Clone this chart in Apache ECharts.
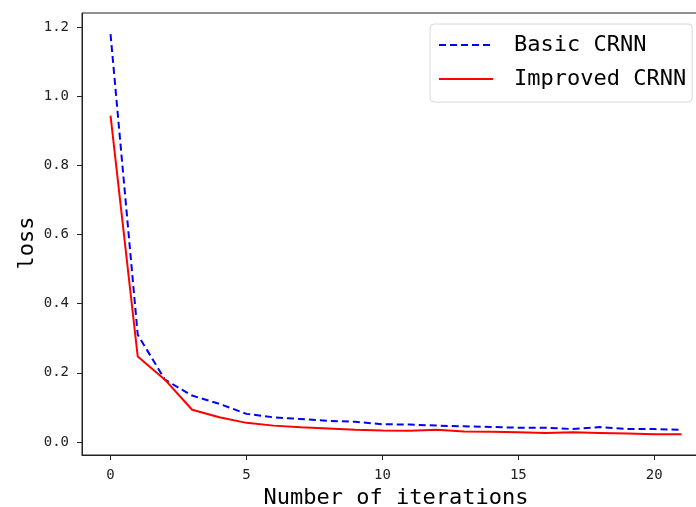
<!DOCTYPE html>
<html>
<head>
<meta charset="utf-8">
<script src="https://cdn.jsdelivr.net/npm/echarts@6/dist/echarts.min.js"></script>
<style>
  html, body { margin: 0; padding: 0; background: #fff; overflow: hidden; }
  #main { width: 712px; height: 507px; }
</style>
</head>
<body>
<div id="main"></div>
<script>
// iterations 0..21
var iterations = [0,1,2,3,4,5,6,7,8,9,10,11,12,13,14,15,16,17,18,19,20,21];
var basicLoss = [1.18,0.31,0.18,0.134,0.11,0.081,0.071,0.066,0.061,0.058,0.051,0.050,0.047,0.045,0.043,0.041,0.041,0.037,0.043,0.037,0.037,0.035];
var improvedLoss = [0.944,0.247,0.18,0.093,0.071,0.055,0.047,0.042,0.039,0.035,0.033,0.032,0.035,0.030,0.029,0.028,0.026,0.028,0.026,0.024,0.022,0.022];
var xTicks = [0, 5, 10, 15, 20];
var yTicks = [0, 0.2, 0.4, 0.6, 0.8, 1.0, 1.2];

var mono = "DejaVu Sans Mono";

function pairs(ys) {
  return iterations.map(function (x, i) { return [x, ys[i]]; });
}

var myChart = echarts.init(document.getElementById("main"));

var option = {
  animation: false,
  grid: {
    left: 82, top: 13, right: 2, bottom: 52,
    outerBoundsMode: "none",
    show: true, borderColor: "#222", borderWidth: 1, backgroundColor: "#fff"
  },
  legend: {
    orient: "vertical",
    left: 430, top: 24,
    padding: [10, 6, 12, 8],
    itemWidth: 54, itemHeight: 14, itemGap: 12,
    backgroundColor: "#fff",
    borderColor: "#d8d8d8", borderWidth: 1, borderRadius: 4,
    itemStyle: { opacity: 0 },
    textStyle: { fontFamily: mono, fontSize: 22, color: "#000", padding: [0, 0, 0, 16] },
    data: ["Basic CRNN", "Improved CRNN"]
  },
  xAxis: {
    type: "value",
    min: -1.05, max: 22.05,
    name: "Number of iterations",
    nameLocation: "middle",
    nameGap: 30,
    nameTextStyle: { fontFamily: mono, fontSize: 22, color: "#000" },
    splitLine: { show: false },
    axisLine: { show: true, onZero: false, lineStyle: { color: "#222" } },
    axisTick: { show: true, inside: false, length: 5, customValues: xTicks, lineStyle: { color: "#222" } },
    axisLabel: { customValues: xTicks, fontFamily: mono, fontSize: 14, color: "#222", margin: 13 }
  },
  yAxis: {
    type: "value",
    min: -0.038, max: 1.241,
    name: "loss",
    nameLocation: "middle",
    nameGap: 44,
    nameRotate: 90,
    nameMoveOverlap: false,
    nameTextStyle: { fontFamily: mono, fontSize: 22, color: "#000", padding: [0, 18, 0, 0] },
    splitLine: { show: false },
    axisLine: { show: true, onZero: false, lineStyle: { color: "#222" } },
    axisTick: { show: true, inside: false, length: 5, customValues: yTicks, lineStyle: { color: "#222" } },
    axisLabel: {
      customValues: yTicks, fontFamily: mono, fontSize: 14, color: "#222", margin: 13,
      formatter: function (v) { return v.toFixed(1); }
    }
  },
  series: [
    {
      name: "Basic CRNN",
      type: "line",
      data: pairs(basicLoss),
      symbol: "none",
      lineStyle: { color: "#0000ff", width: 2, type: [7, 4] },
      itemStyle: { color: "#0000ff" }
    },
    {
      name: "Improved CRNN",
      type: "line",
      data: pairs(improvedLoss),
      symbol: "none",
      lineStyle: { color: "#ff0000", width: 2 },
      itemStyle: { color: "#ff0000" }
    }
  ]
};

myChart.setOption(option);
</script>
</body>
</html>
